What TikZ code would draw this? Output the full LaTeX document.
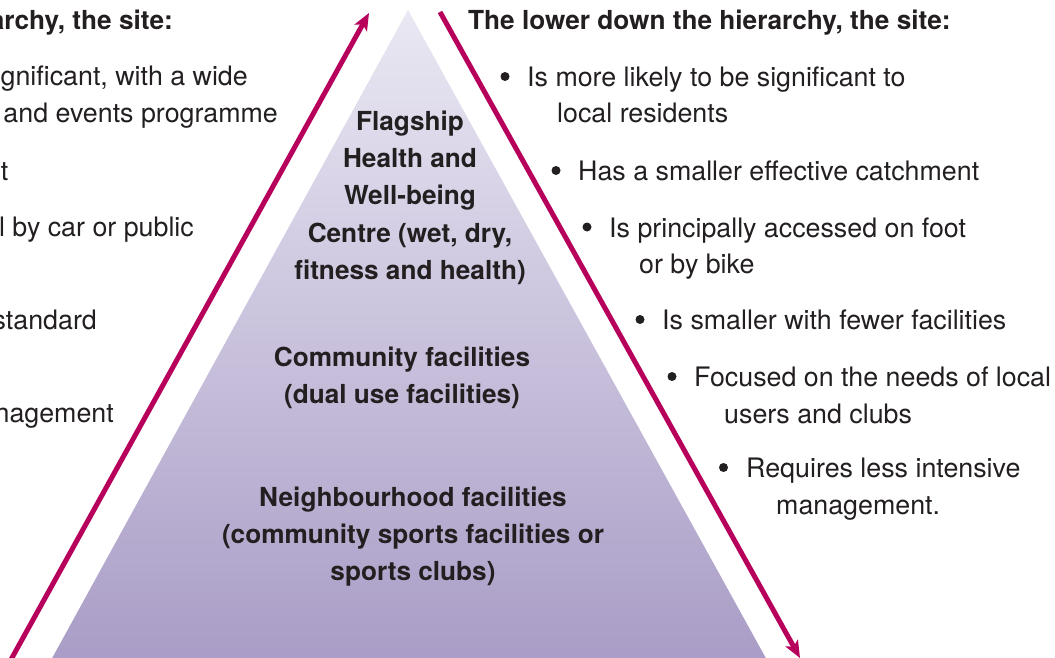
\documentclass[tikz,border=0pt]{standalone}
\usepackage{fontspec}
\setmainfont{TeX Gyre Heros}
\usetikzlibrary{arrows.meta}
\definecolor{txt}{RGB}{35,31,32}
\definecolor{arr}{RGB}{183,0,92}
\definecolor{pyrtop}{RGB}{234,232,243}
\definecolor{pyrbot}{RGB}{169,156,198}
\tikzset{
 reg/.style={font=\fontsize{26.8}{37}\selectfont, text=txt, inner sep=0pt},
 bld/.style={font=\fontsize{26.2}{37}\selectfont\bfseries, text=txt, inner sep=0pt},
 ln/.style={reg, anchor=base west},
 hd/.style={bld, anchor=base west},
 lfrag/.style={reg, anchor=base east},
 lhd/.style={bld, anchor=base east},
 pyr/.style={bld, anchor=base},
 bul/.style={circle, fill=txt, minimum size=9pt, inner sep=0pt},
 hier/.style={draw=arr, line width=5pt, -{Stealth[length=17pt,width=14pt,inset=4pt]}},
}
\begin{document}
\begin{tikzpicture}[x=1pt,y=-1pt]
\useasboundingbox (0,0) rectangle (1055,658);
\clip (0,0) rectangle (1055,658);
\fill[white] (0,0) rectangle (1055,658);
% pyramid
\shade[top color=pyrtop,bottom color=pyrbot] (408,10) -- (768,662) -- (50,662) -- cycle;
% arrows
\coordinate (lb) at (8,665);
\coordinate (lt) at (369,13);
\coordinate (rt) at (440,12);
\coordinate (rb) at (800,658);
\draw[hier] (lb) -- (lt);
\draw[hier] (rt) -- (rb);
% pyramid labels
\node[pyr] (p1) at (410,130.5) {Flagship};
\node[pyr] (p2) at (410,167.5) {Health and};
\node[pyr] (p3) at (410,204.5) {Well-being};
\node[pyr] (p4) at (410,242) {Centre (wet, dry,};
\node[pyr] (p5) at (410,279) {fitness and health)};
\node[pyr] (c1) at (402,366.5) {Community facilities};
\node[pyr] (c2) at (402,403.5) {(dual use facilities)};
\node[pyr] (n1) at (413,506.5) {Neighbourhood facilities};
\node[pyr] (n2) at (413,543.5) {(community sports facilities or};
\node[pyr] (n3) at (413,580.5) {sports clubs)};
% left (cut) column
\node[lhd] (lh) at (173,29.5) {archy, the site:};
\node[lfrag] (l1) at (248,86) {gnificant, with a wide};
\node[lfrag] (l2) at (278,123) {and events programme};
\node[lfrag] (l3) at (8.5,180) {t};
\node[lfrag] (l4) at (194,236.5) {l by car or public};
\node[lfrag] (l5) at (97,329.5) {standard};
\node[lfrag] (l6) at (114,422) {nagement};
% right column
\node[hd] (rh) at (468,29.5) {The lower down the hierarchy, the site:};
\node[bul] (b1) at (505,76.5) {};
\node[ln] (r1) at (527,86.5) {Is more likely to be significant to};
\node[ln] (r1b) at (557,123) {local residents};
\node[bul] (b2) at (556,170.5) {};
\node[ln] (r2) at (578,180) {Has a smaller effective catchment};
\node[bul] (b3) at (587,227) {};
\node[ln] (r3) at (609,237) {Is principally accessed on foot};
\node[ln] (r3b) at (639,273.5) {or by bike};
\node[bul] (b4) at (640,319.5) {};
\node[ln] (r4) at (662,329.5) {Is smaller with fewer facilities};
\node[bul] (b5) at (672,376.5) {};
\node[ln] (r5) at (694,386.5) {Focused on the needs of local};
\node[ln] (r5b) at (724,423) {users and clubs};
\node[bul] (b6) at (723.5,467.5) {};
\node[ln] (r6) at (746,477.5) {Requires less intensive};
\node[ln] (r6b) at (776,514.5) {management.};
\end{tikzpicture}
\end{document}
